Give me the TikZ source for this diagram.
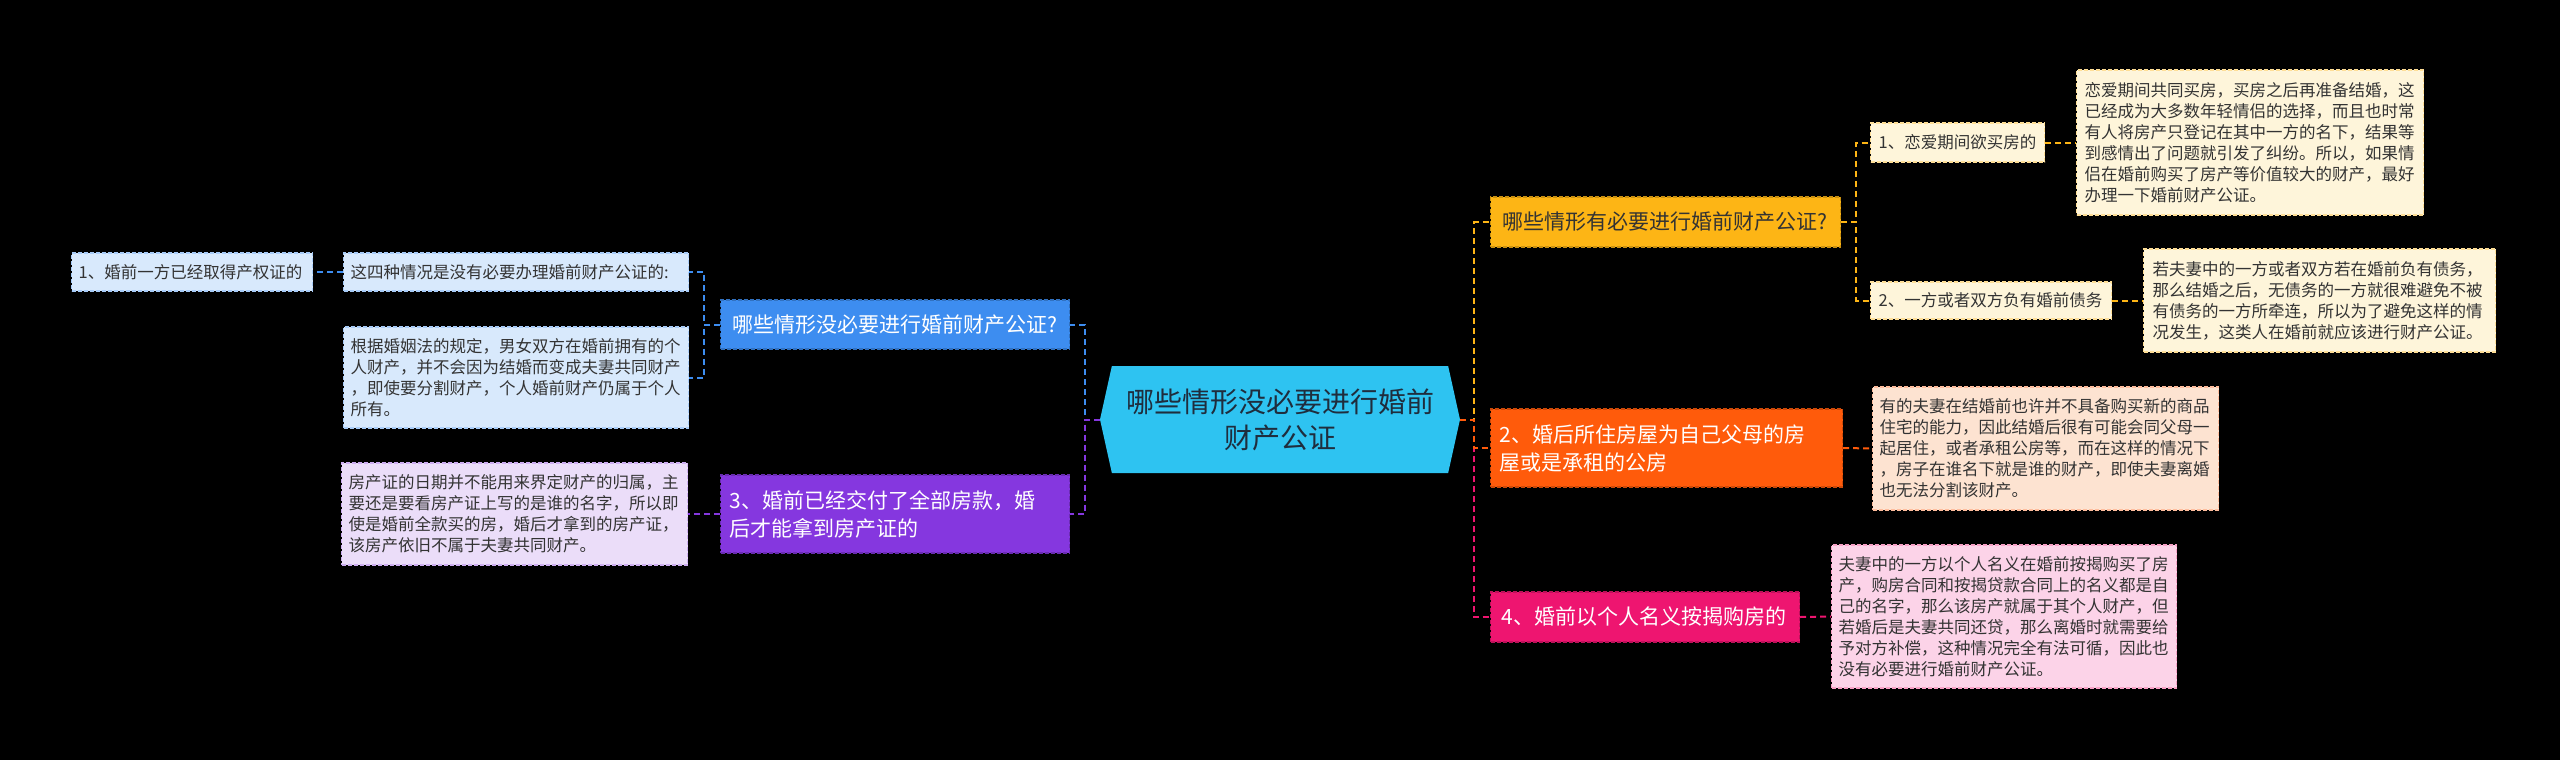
\documentclass[tikz,border=0pt]{standalone}
\usepackage{fontspec}
\setmainfont{Noto Sans CJK SC}
\usetikzlibrary{shapes.symbols}

\definecolor{rootcyan}{HTML}{2EC3F1}
\definecolor{roottext}{HTML}{1F2D3D}
\definecolor{textgrey}{HTML}{333333}
\definecolor{nodeblue}{HTML}{3D8DF0}
\definecolor{paleblue}{HTML}{D8E9FC}
\definecolor{nodepurple}{HTML}{8537DF}
\definecolor{palepurple}{HTML}{EBDDF9}
\definecolor{nodeyellow}{HTML}{FDB515}
\definecolor{paleyellow}{HTML}{FEF5DA}
\definecolor{nodeorange}{HTML}{FF5B0B}
\definecolor{paleorange}{HTML}{FDE3D1}
\definecolor{nodepink}{HTML}{EE1570}
\definecolor{palepink}{HTML}{FCD3E8}

\begin{document}
\begin{tikzpicture}[x=1pt,y=-1pt,
    box/.style={rectangle, anchor=west, align=left, inner ysep=0pt, line width=1.2pt, dash pattern=on 4pt off 2pt},
    big/.style={box, font=\fontsize{21}{28}\selectfont},
    small/.style={box, font=\fontsize{16.5}{21}\selectfont, text=textgrey},
    link/.style={line width=2pt, dash pattern=on 6pt off 4pt}]

    % Background:
    \fill[black] (0,0) rectangle (2560,760);

    % Centre:
    \node[signal, signal to=west and east, signal pointer angle=155, fill=rootcyan, text=roottext,
          minimum width=360pt, minimum height=107pt, inner sep=0pt, align=center,
          font=\fontsize{28}{36}\selectfont] (root) at (1280,419.5) {哪些情形没必要进行婚前\\财产公证};

    % Left branches:
    \node[big, fill=nodeblue, draw=nodeblue!80!black, text=white, align=center, inner xsep=8pt,
          text width=333pt, minimum height=49pt] (qno) at (720,324.5) {哪些情形没必要进行婚前财产公证?};
    \node[small, fill=paleblue, draw=nodeblue!45, inner xsep=7pt, text width=331pt, minimum height=38pt]
          (four) at (343,272) {这四种情况是没有必要办理婚前财产公证的:};
    \node[small, fill=paleblue, draw=nodeblue!45, inner xsep=7pt, text width=227pt, minimum height=38pt]
          (one) at (71,272) {1、婚前一方已经取得产权证的};
    \node[small, fill=paleblue, draw=nodeblue!45, inner xsep=7pt, text width=331pt, minimum height=101pt]
          (law) at (343,377.5) {根据婚姻法的规定，男女双方在婚前拥有的个\\人财产，并不会因为结婚而变成夫妻共同财产\\，即使要分割财产，个人婚前财产仍属于个人\\所有。};
    \node[big, fill=nodepurple, draw=nodepurple!80!black, text=white, inner xsep=9pt,
          text width=331pt, minimum height=78pt] (paid) at (720,514) {3、婚前已经交付了全部房款，婚\\后才能拿到房产证的};
    \node[small, fill=palepurple, draw=nodepurple!40, inner xsep=7pt, text width=332pt, minimum height=102pt]
          (paiddet) at (341,514) {房产证的日期并不能用来界定财产的归属，主\\要还是要看房产证上写的是谁的名字，所以即\\使是婚前全款买的房，婚后才拿到的房产证，\\该房产依旧不属于夫妻共同财产。};

    % Right branches:
    \node[big, fill=nodeyellow, draw=nodeyellow!80!black, text=textgrey, inner xsep=12pt,
          text width=326pt, minimum height=50pt] (qyes) at (1490,222) {哪些情形有必要进行婚前财产公证?};
    \node[small, fill=paleyellow, draw=nodeyellow!45, inner xsep=8pt, text width=158pt, minimum height=39pt]
          (dating) at (1870,142.5) {1、恋爱期间欲买房的};
    \node[small, fill=paleyellow, draw=nodeyellow!45, inner xsep=8pt, text width=331pt, minimum height=145pt]
          (datingdet) at (2076,142.5) {恋爱期间共同买房，买房之后再准备结婚，这\\已经成为大多数年轻情侣的选择，而且也时常\\有人将房产只登记在其中一方的名下，结果等\\到感情出了问题就引发了纠纷。所以，如果情\\侣在婚前购买了房产等价值较大的财产，最好\\办理一下婚前财产公证。};
    \node[small, fill=paleyellow, draw=nodeyellow!45, inner xsep=8pt, text width=225pt, minimum height=37pt]
          (debt) at (1870,300.5) {2、一方或者双方负有婚前债务};
    \node[small, fill=paleyellow, draw=nodeyellow!45, inner xsep=9pt, text width=334pt, minimum height=103pt]
          (debtdet) at (2143,300.5) {若夫妻中的一方或者双方若在婚前负有债务，\\那么结婚之后，无债务的一方就很难避免不被\\有债务的一方所牵连，所以为了避免这样的情\\况发生，这类人在婚前就应该进行财产公证。};
    \node[big, fill=nodeorange, draw=nodeorange!80!black, text=white, inner xsep=9pt,
          text width=334pt, minimum height=78pt] (rent) at (1490,448) {2、婚后所住房屋为自己父母的房\\屋或是承租的公房};
    \node[small, fill=paleorange, draw=nodeorange!40, inner xsep=7pt, text width=332pt, minimum height=123pt]
          (rentdet) at (1872,448.5) {有的夫妻在结婚前也许并不具备购买新的商品\\住宅的能力，因此结婚后很有可能会同父母一\\起居住，或者承租公房等，而在这样的情况下\\，房子在谁名下就是谁的财产，即使夫妻离婚\\也无法分割该财产。};
    \node[big, fill=nodepink, draw=nodepink!80!black, text=white, inner xsep=11pt,
          text width=287pt, minimum height=50pt] (mort) at (1490,617) {4、婚前以个人名义按揭购房的};
    \node[small, fill=palepink, draw=nodepink!40, inner xsep=7pt, text width=331pt, minimum height=143pt]
          (mortdet) at (1831,616.5) {夫妻中的一方以个人名义在婚前按揭购买了房\\产，购房合同和按揭贷款合同上的名义都是自\\己的名字，那么该房产就属于其个人财产，但\\若婚后是夫妻共同还贷，那么离婚时就需要给\\予对方补偿，这种情况完全有法可循，因此也\\没有必要进行婚前财产公证。};

    % Left connectors:
    \draw[link, nodeblue] (root.west) -- ++(-15,0) |- (qno.east);
    \draw[link, nodepurple] (root.west) -- ++(-15,0) |- (paid.east);
    \draw[link, nodeblue] (qno.west) -- ++(-16,0) |- (four.east);
    \draw[link, nodeblue] (qno.west) -- ++(-16,0) |- (law.east);
    \draw[link, nodeblue] (four.west) -- (one.east);
    \draw[link, nodepurple] (paid.west) -- (paiddet.east);

    % Right connectors:
    \draw[link, nodeyellow] (root.east) -- ++(14,0) |- (qyes.west);
    \draw[link, nodepink] (root.east) -- ++(14,0) |- (mort.west);
    \draw[link, nodeorange] (root.east) -- ++(14,0) |- (rent.west);
    \draw[link, nodeyellow] (qyes.east) -- ++(15,0) |- (dating.west);
    \draw[link, nodeyellow] (qyes.east) -- ++(15,0) |- (debt.west);
    \draw[link, nodeyellow] (dating.east) -- (datingdet.west);
    \draw[link, nodeyellow] (debt.east) -- (debtdet.west);
    \draw[link, nodeorange] (rent.east) -- (rentdet.west);
    \draw[link, nodepink] (mort.east) -- (mortdet.west);
\end{tikzpicture}
\end{document}
